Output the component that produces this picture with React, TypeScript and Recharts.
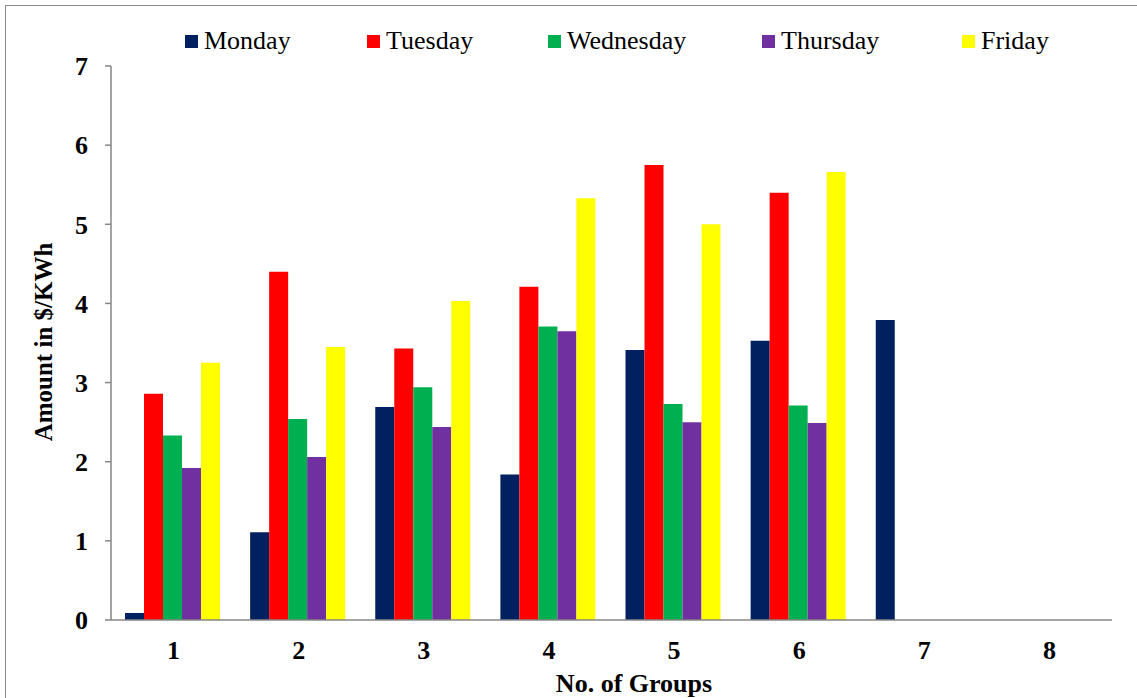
import { BarChart, Bar, XAxis, YAxis } from 'recharts';

const groups = ['1', '2', '3', '4', '5', '6', '7', '8'];
const monday = [0.09, 1.11, 2.69, 1.84, 3.41, 3.53, 3.79, null];
const tuesday = [2.86, 4.4, 3.43, 4.21, 5.75, 5.4, null, null];
const wednesday = [2.33, 2.54, 2.94, 3.71, 2.73, 2.71, null, null];
const thursday = [1.92, 2.06, 2.44, 3.65, 2.5, 2.49, null, null];
const friday = [3.25, 3.45, 4.03, 5.33, 5.0, 5.66, null, null];
const yTicks = [0, 1, 2, 3, 4, 5, 6, 7];

const series = [
  { key: 'Monday', values: monday, color: '#002060' },
  { key: 'Tuesday', values: tuesday, color: '#FF0000' },
  { key: 'Wednesday', values: wednesday, color: '#00B050' },
  { key: 'Thursday', values: thursday, color: '#7030A0' },
  { key: 'Friday', values: friday, color: '#FFFF00' },
];

const data = groups.map((g, i) => {
  const row: Record<string, string | number | null> = { group: g };
  series.forEach((s) => {
    row[s.key] = s.values[i];
  });
  return row;
});

const FONT = '"Liberation Serif", "Times New Roman", serif';
const AXIS = '#868686';
// legend slot widths, as Excel spaced them
const legendSlots = [182, 181, 214, 200, 120];

const App = () => {
  return (
    <div style={{ position: 'relative', width: 1137, height: 698, fontFamily: FONT, background: '#fff' }}>
      <style>{'body{margin:0}'}</style>
      <div
        style={{
          position: 'absolute',
          left: 5,
          top: 5,
          width: 1140,
          height: 700,
          border: '1.5px solid #8c8c8c',
        }}
      />
      <div style={{ position: 'absolute', left: 185, top: 26, display: 'flex', alignItems: 'center' }}>
        {series.map((s, i) => (
          <div key={s.key} style={{ width: legendSlots[i], display: 'flex', alignItems: 'center' }}>
            <span style={{ width: 13, height: 13, background: s.color, display: 'inline-block', marginRight: 6 }} />
            <span style={{ fontSize: 26, lineHeight: '30px', color: '#000' }}>{s.key}</span>
          </div>
        ))}
      </div>
      <div style={{ position: 'absolute', left: 0, top: 0 }}>
        <BarChart
          width={1137}
          height={698}
          data={data}
          margin={{ top: 66, right: 25, left: 0, bottom: 0 }}
          barCategoryGap="11.2%"
          barGap={0}
        >
          <XAxis
            dataKey="group"
            height={78}
            axisLine={{ stroke: AXIS, strokeWidth: 1.5 }}
            tickLine={false}
            tickMargin={15}
            tick={{ fontSize: 26, fontWeight: 'bold', fill: '#000', fontFamily: FONT }}
            label={{
              content: () => (
                <text x={634} y={692} textAnchor="middle" fontSize={26} fontWeight="bold" fontFamily={FONT} fill="#000">
                  No. of Groups
                </text>
              ),
            }}
          />
          <YAxis
            width={111}
            domain={[0, 7]}
            ticks={yTicks}
            interval={0}
            allowDataOverflow
            axisLine={{ stroke: AXIS, strokeWidth: 1.5 }}
            tickLine={{ stroke: AXIS, strokeWidth: 1.5 }}
            tickSize={6}
            tickMargin={17}
            tick={{ fontSize: 26, fontWeight: 'bold', fill: '#000', fontFamily: FONT }}
            label={{
              content: () => (
                <text
                  x={0}
                  y={0}
                  transform="translate(52, 342) rotate(-90)"
                  textAnchor="middle"
                  fontSize={25}
                  fontWeight="bold"
                  fontFamily={FONT}
                  fill="#000"
                >
                  Amount in $/KWh
                </text>
              ),
            }}
          />
          {series.map((s) => (
            <Bar key={s.key} dataKey={s.key} fill={s.color} isAnimationActive={false} />
          ))}
        </BarChart>
      </div>
    </div>
  );
};

export default App;
